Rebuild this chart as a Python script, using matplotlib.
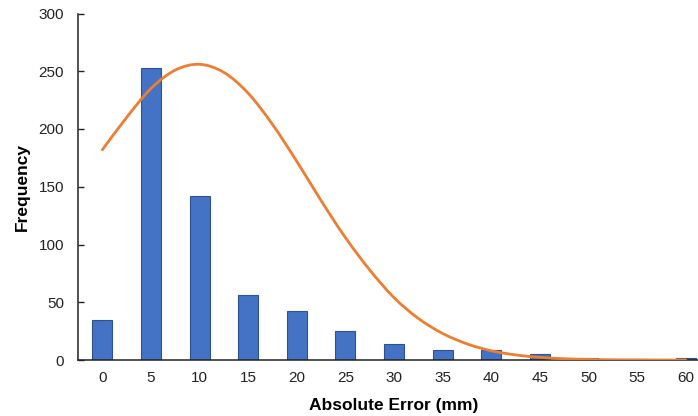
import numpy as np
import matplotlib
matplotlib.use("Agg")
import matplotlib.pyplot as plt
from matplotlib.path import Path
from matplotlib.patches import PathPatch

plt.rcParams['font.family'] = ['Liberation Sans', 'DejaVu Sans']

# histogram of absolute errors
bins = [0, 5, 10, 15, 20, 25, 30, 35, 40, 45, 50, 55, 60]
counts = [35, 253, 142, 56, 42, 25, 14, 9, 9, 5, 2, 1, 2]

# fitted curve (x in mm, y in frequency)
curve_x = [0, 2.5, 5, 7.5, 10, 12.5, 15, 17.5, 20, 22.5, 25, 27.5, 30,
           32.5, 35, 37.5, 40, 42.5, 45, 47.5, 50, 52.5, 55, 57.5, 60]
curve_y = [182, 210, 235, 251, 256, 249, 231, 204, 172, 138, 106, 78, 54,
           36, 23, 14, 8, 4.4, 2.3, 1.1, 0.5, 0.2, 0.1, 0, 0]


def smooth_path(xs, ys):
    # catmull-rom through the points, like excel's smoothed line
    p = np.column_stack([xs, ys]).astype(float)
    verts = [p[0]]
    codes = [Path.MOVETO]
    for i in range(len(p) - 1):
        p0 = p[i - 1] if i > 0 else p[i]
        p3 = p[i + 2] if i + 2 < len(p) else p[i + 1]
        c1 = p[i] + (p[i + 1] - p0) / 6.0
        c2 = p[i + 1] - (p3 - p[i]) / 6.0
        verts += [c1, c2, p[i + 1]]
        codes += [Path.CURVE4] * 3
    return Path(verts, codes)


fig = plt.figure(figsize=(6.98, 4.16), dpi=100)
ax = fig.add_axes([78/698, 56/416, 632/698, 346.5/416])

pos = np.arange(len(bins))
ax.bar(pos, counts, width=0.41, color='#4472C4', edgecolor='#2F528F', linewidth=0.8, zorder=2)

cx = np.array(curve_x) / 5.0
ax.add_patch(PathPatch(smooth_path(cx, curve_y), facecolor='none', edgecolor='#ED7D31',
                       linewidth=2.0, zorder=3, capstyle='round'))

ax.set_xlim(-0.5, 12.5)
ax.set_ylim(0, 300)
ax.set_xticks(pos)
ax.set_xticklabels([str(b) for b in bins])
ax.set_yticks([0, 50, 100, 150, 200, 250, 300])

for s in ['top', 'right']:
    ax.spines[s].set_visible(False)
for s in ['left', 'bottom']:
    ax.spines[s].set_linewidth(1.1)
    ax.spines[s].set_color('#222222')

ax.tick_params(axis='y', direction='in', length=4, width=1, colors='#222222', labelsize=11, pad=10)
ax.tick_params(axis='x', length=0, labelsize=11, pad=8, colors='#222222')

ax.set_xlabel('Absolute Error (mm)', fontsize=12.5, fontweight='bold', labelpad=9)
ax.set_ylabel('Frequency', fontsize=12.5, fontweight='bold', labelpad=6)

fig.savefig('out.png', dpi=100)
